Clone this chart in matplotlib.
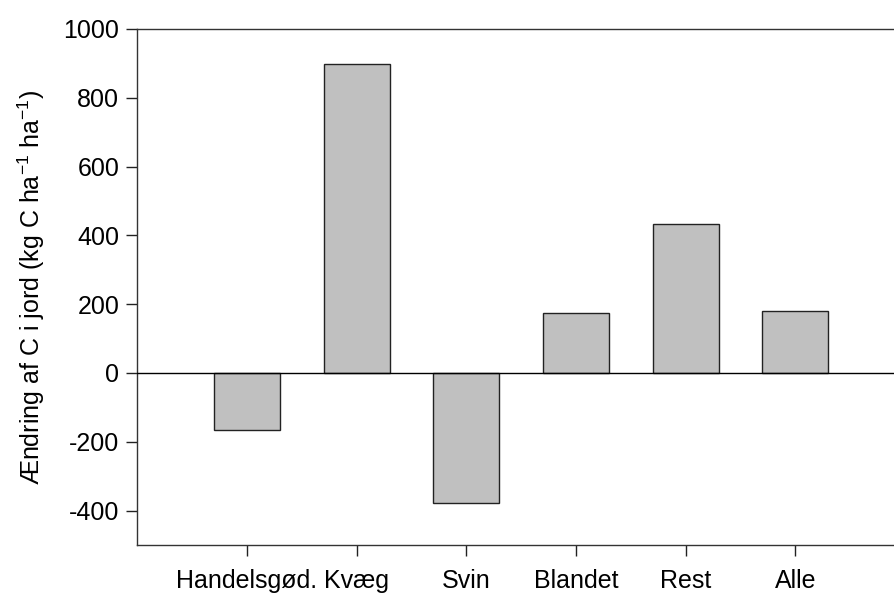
import numpy as np
import matplotlib
matplotlib.use("Agg")
import matplotlib.pyplot as plt

plt.rcParams['font.family'] = ['Liberation Sans', 'DejaVu Sans']
plt.rcParams['mathtext.fontset'] = 'custom'
plt.rcParams['mathtext.rm'] = 'Liberation Sans'
plt.rcParams['mathtext.it'] = 'Liberation Sans:italic'
plt.rcParams['axes.unicode_minus'] = False

categories = ["Handelsgød.", "Kvæg", "Svin", "Blandet", "Rest", "Alle"]
values = [-167, 898, -379, 173, 432, 179]
yticks = [-400, -200, 0, 200, 400, 600, 800, 1000]

fig = plt.figure(figsize=(8.95, 5.94), dpi=100)
# axes run a little past the right edge, like the original
ax = fig.add_axes([137.3/895, 1 - 545/594, (905 - 137.3)/895, (545 - 29)/594])

x = np.arange(1, len(categories) + 1)
ax.bar(x, values, width=0.6, color="#c0c0c0", edgecolor="#222222", linewidth=1.0, zorder=2)
ax.axhline(0, color="black", linewidth=1.0, zorder=3)

ax.set_xlim(0, 7)
ax.set_ylim(-500, 1000)
ax.set_xticks(x)
ax.set_xticklabels(categories)
ax.set_yticks(yticks)

ax.spines['right'].set_visible(False)
for s in ['left', 'bottom', 'top']:
    ax.spines[s].set_linewidth(1.0)
    ax.spines[s].set_color("#333333")

ax.tick_params(axis='both', direction='out', length=8, width=1, labelsize=18, color="#222222")
ax.tick_params(axis='x', pad=9)
ax.tick_params(axis='y', pad=5)

ax.set_ylabel("Ændring af C i jord (kg C ha$^{-1}$ ha$^{-1}$)", fontsize=18, labelpad=12)

fig.savefig("out.png", dpi=100)
